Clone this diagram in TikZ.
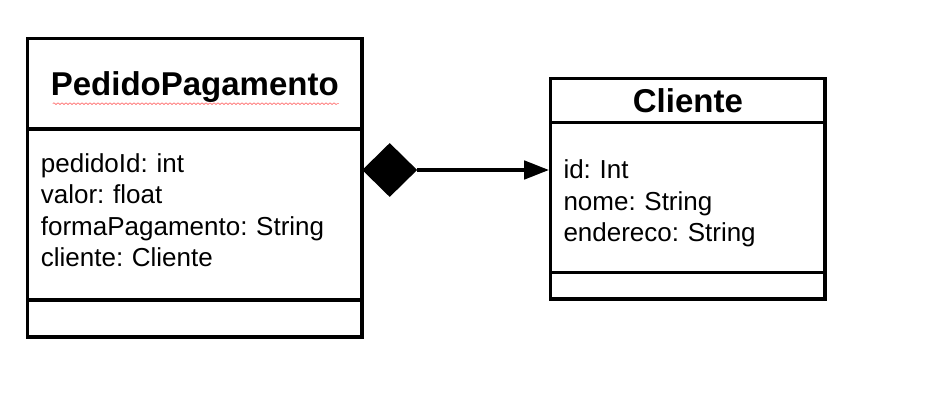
\documentclass[tikz,border=0pt]{standalone}
\usepackage{fontspec}
\setmainfont{Liberation Sans}
\usetikzlibrary{positioning,shapes.geometric,arrows.meta,decorations.pathmorphing}
\frenchspacing

\tikzset{
    umlbox/.style={draw, line width=3.5pt, rectangle, inner sep=0pt, outer sep=0pt},
    classname/.style={umlbox, font=\fontsize{33}{39}\selectfont\bfseries, text height=23.6pt, text depth=0pt},
    members/.style={anchor=north west, inner sep=0pt, align=left, font=\fontsize{26}{31.3}\selectfont},
    composition/.style={diamond, fill, inner sep=0pt, minimum width=55pt, minimum height=54pt, anchor=west},
    assoc/.style={line width=4.5pt, -{Triangle[length=25pt,width=18pt]}, shorten >=1.5pt},
    spellcheck/.style={draw=red!60, line width=0.6pt, decorate, decoration={snake, segment length=4pt, amplitude=0.9pt}},
}

\begin{document}
\begin{tikzpicture}[x=1pt,y=-1pt]
    \useasboundingbox (0,0) rectangle (950,420);

    % PedidoPagamento
    \node[classname, minimum width=334.5pt, minimum height=90.3pt] (pedTitle) at (194.75,83.85) {PedidoPagamento};
    \node[umlbox, minimum width=334.5pt, minimum height=171pt, below=0pt of pedTitle] (pedAttr) {};
    \node[umlbox, minimum width=334.5pt, minimum height=37pt, below=0pt of pedAttr] (pedOps) {};
    \node[members, text width=300pt] (pedFields) at ([xshift=13.2pt, yshift=-24.4pt]pedAttr.north west)
        {pedidoId: int\\ valor: float\\ formaPagamento: String\\ cliente: Cliente};
    \draw[spellcheck] ([xshift=-142pt, yshift=-8pt]pedTitle.base) -- ([xshift=144pt, yshift=-8pt]pedTitle.base);

    % Cliente
    \node[classname, minimum width=274.3pt, minimum height=44.4pt] (cliTitle) at (687.85,100.5) {Cliente};
    \node[umlbox, minimum width=274.3pt, minimum height=149.6pt, below=0pt of cliTitle] (cliAttr) {};
    \node[umlbox, minimum width=274.3pt, minimum height=26.7pt, below=0pt of cliAttr] (cliOps) {};
    \node[members, text width=250pt] (cliFields) at ([xshift=12.6pt, yshift=-37pt]cliAttr.north west)
        {id: Int\\ nome: String\\ endereco: String};

    % composition
    \node[composition] (comp) at (pedAttr.east |- 0,170) {};
    \draw[assoc] (comp.east) -- (comp.east -| cliAttr.west);
\end{tikzpicture}
\end{document}
